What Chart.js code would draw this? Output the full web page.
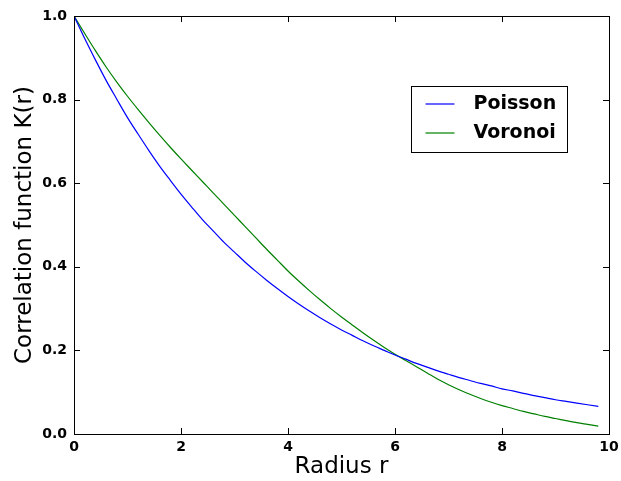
<!DOCTYPE html>
<html>
<head>
<meta charset="utf-8">
<script src="https://cdn.jsdelivr.net/npm/chart.js@4/dist/chart.umd.min.js"></script>
<style>
html,body{margin:0;padding:0;background:#fff;}
#wrap{width:621px;height:481px;position:relative;}
</style>
</head>
<body>
<div id="wrap"><canvas id="c" width="621" height="481"></canvas></div>
<script>
const radius = [0,0.2,0.4,0.6,0.8,1.0,1.2,1.4,1.6,1.8,2.0,2.2,2.4,2.6,2.8,3.0,3.2,3.4,3.6,3.8,4.0,4.2,4.4,4.6,4.8,5.0,5.2,5.4,5.6,5.8,6.0,6.2,6.4,6.6,6.8,7.0,7.2,7.4,7.6,7.8,8.0,8.2,8.4,8.6,8.8,9.0,9.2,9.4,9.6,9.8];
const poisson = [1.000,0.946,0.895,0.846,0.801,0.757,0.717,0.678,0.641,0.607,0.574,0.543,0.513,0.486,0.459,0.435,0.411,0.389,0.368,0.348,0.329,0.311,0.294,0.278,0.263,0.249,0.236,0.223,0.211,0.200,0.189,0.179,0.169,0.160,0.151,0.143,0.135,0.128,0.121,0.115,0.108,0.103,0.097,0.092,0.087,0.082,0.078,0.074,0.070,0.066];
const voronoi = [1.000,0.958,0.917,0.878,0.842,0.808,0.776,0.745,0.715,0.686,0.658,0.631,0.604,0.577,0.550,0.523,0.496,0.469,0.442,0.416,0.390,0.366,0.343,0.321,0.300,0.280,0.261,0.242,0.224,0.207,0.191,0.176,0.161,0.146,0.131,0.118,0.106,0.095,0.085,0.076,0.068,0.061,0.054,0.048,0.042,0.037,0.032,0.027,0.023,0.019];
const seriesNames = ['Poisson','Voronoi'];
const xTicks = [0,2,4,6,8,10];
const yTicks = [0.0,0.2,0.4,0.6,0.8,1.0];
const xTitle = 'Radius r';
const yTitle = 'Correlation function K(r)';

const FONT = "'DejaVu Sans', sans-serif";

function pts(ys){ return radius.map((r,i)=>({x:r,y:ys[i]})); }

const innerTicks = {
  id:'innerTicks',
  afterDraw(chart){
    const ctx = chart.ctx, a = chart.chartArea;
    const xs = chart.scales.x, ys = chart.scales.y;
    const L = 6;
    ctx.save();
    ctx.strokeStyle = '#000';
    ctx.lineWidth = 1;
    ctx.beginPath();
    xTicks.forEach(v=>{
      const p = Math.round(xs.getPixelForValue(v))+0.5;
      ctx.moveTo(p,a.bottom); ctx.lineTo(p,a.bottom-L);
      ctx.moveTo(p,a.top); ctx.lineTo(p,a.top+L);
    });
    yTicks.forEach(v=>{
      const p = Math.round(ys.getPixelForValue(v))+0.5;
      ctx.moveTo(a.left,p); ctx.lineTo(a.left+L,p);
      ctx.moveTo(a.right,p); ctx.lineTo(a.right-L,p);
    });
    ctx.stroke();
    ctx.strokeRect(Math.round(a.left)+0.5, Math.round(a.top)+0.5, Math.round(a.right-a.left), Math.round(a.bottom-a.top));
    // legend
    const bx=411.5, by=86.5, bw=156, bh=66;
    ctx.fillStyle='#fff';
    ctx.fillRect(bx,by,bw,bh);
    ctx.strokeStyle='#000';
    ctx.strokeRect(bx,by,bw,bh);
    chart.data.datasets.forEach((ds,i)=>{
      const yy = Math.round(by + 17 + i*29);
      ctx.strokeStyle = ds.borderColor;
      ctx.lineWidth = 1.2;
      ctx.beginPath(); ctx.moveTo(bx+14,yy); ctx.lineTo(bx+43,yy); ctx.stroke();
      ctx.fillStyle='#000';
      ctx.font = "bold 19px "+FONT;
      ctx.textBaseline='middle';
      ctx.textAlign='left';
      ctx.fillText(ds.label, bx+62, yy);
    });
    ctx.restore();
  }
};

new Chart(document.getElementById('c'), {
  type:'line',
  data:{
    datasets:[
      {label:seriesNames[0], data:pts(poisson), borderColor:'#0000ff', borderWidth:1.2, pointRadius:0, tension:0.4, cubicInterpolationMode:'monotone', fill:false},
      {label:seriesNames[1], data:pts(voronoi), borderColor:'#008000', borderWidth:1.2, pointRadius:0, tension:0.4, cubicInterpolationMode:'monotone', fill:false}
    ]
  },
  options:{
    responsive:false,
    animation:false,
    layout:{padding:{top:16,right:12,left:0,bottom:0}},
    plugins:{legend:{display:false}, tooltip:{enabled:false}},
    scales:{
      x:{
        type:'linear', min:0, max:10,
        afterBuildTicks(s){ s.ticks = xTicks.map(v=>({value:v})); },
        afterFit(s){ s.height = 47; s.paddingRight = 0; s.paddingLeft = 0; },
        grid:{display:false, drawTicks:false},
        border:{display:false},
        ticks:{color:'#000', padding:5, maxRotation:0, font:{family:FONT, size:14, weight:'bold'}, callback:v=>String(v)},
        title:{display:true, text:xTitle, color:'#000', font:{family:FONT, size:23}, padding:{top:0,bottom:0}}
      },
      y:{
        type:'linear', min:0, max:1,
        afterBuildTicks(s){ s.ticks = yTicks.map(v=>({value:v})); },
        afterFit(s){ s.width = 74; s.paddingTop = 0; s.paddingBottom = 0; },
        grid:{display:false, drawTicks:false},
        border:{display:false},
        ticks:{color:'#000', padding:7, font:{family:FONT, size:14, weight:'bold'}, callback:v=>Number(v).toFixed(1)},
        title:{display:true, text:yTitle, color:'#000', font:{family:FONT, size:23}, padding:{top:11,bottom:0}}
      }
    }
  },
  plugins:[innerTicks]
});
</script>
</body>
</html>
